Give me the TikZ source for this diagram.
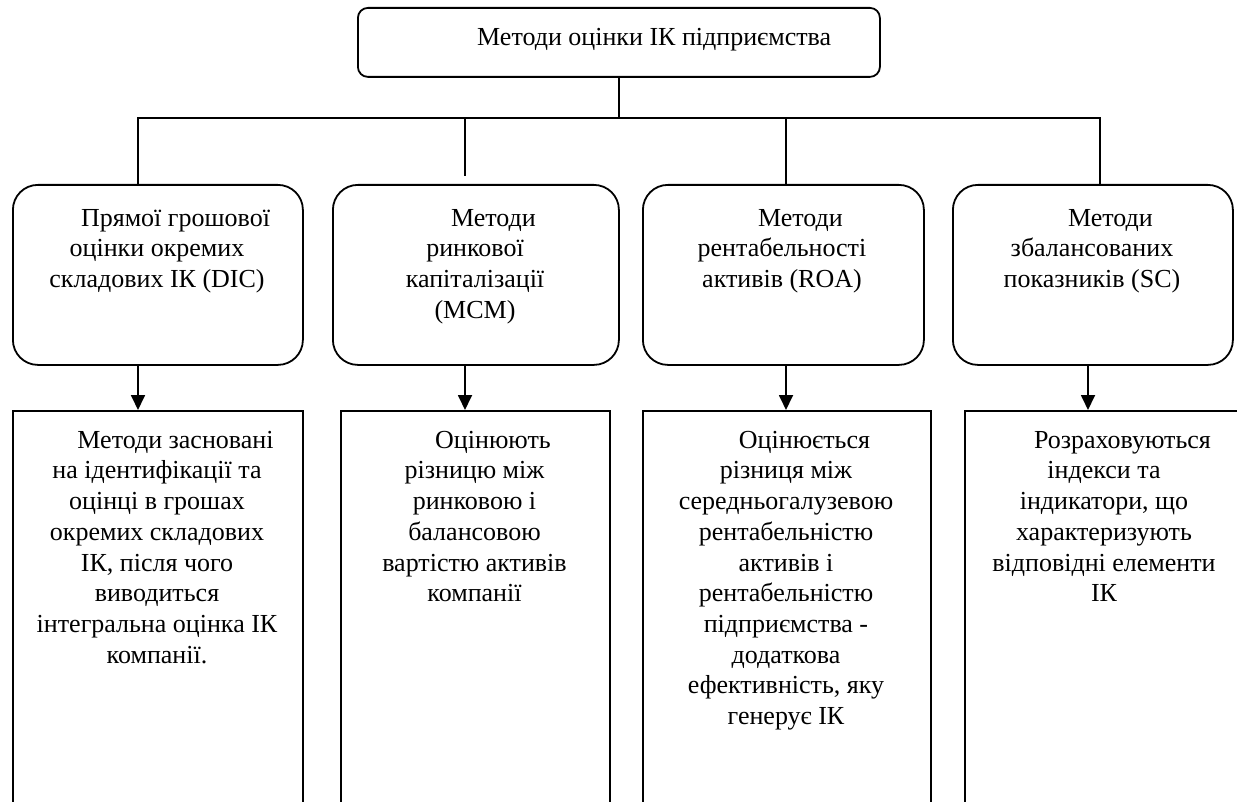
\documentclass[tikz,border=0pt]{standalone}
\usepackage{fontspec}
\setmainfont{Liberation Serif}
\usetikzlibrary{arrows.meta}
\newcommand\firstind{\rule{0pt}{24pt}\hspace*{37pt}}
\tikzset{
  ln/.style={line width=1.8pt, line cap=rect},
  topbox/.style={draw, line width=1.8pt, rounded corners=10pt, anchor=north west, inner sep=0pt},
  rbox/.style={draw, line width=1.8pt, rounded corners=25pt, anchor=north west, inner sep=0pt},
  pbox/.style={draw, line width=1.8pt, anchor=north west, inner sep=0pt},
  txt/.style={font=\fontsize{26}{30.7}\selectfont, align=center, inner sep=0pt, anchor=north},
  arr/.style={line width=1.8pt, -{Triangle[length=15pt,width=14pt]}}
}
\begin{document}
\begin{tikzpicture}[x=1pt,y=-1pt]
\useasboundingbox (0,0) rectangle (1237,802);
\clip (0,0) rectangle (1237,802);
% top box
\node[topbox, minimum width=522pt, minimum height=69pt] (top) at (357,7) {};
\node[font=\fontsize{26}{30.7}\selectfont, inner sep=0pt, anchor=base west] (toptxt) at (477,46) {Методи оцінки ІК підприємства};
% rounded boxes
\node[rbox, minimum width=290pt, minimum height=180pt] (r1) at (12,184) {};
\node[rbox, minimum width=286pt, minimum height=180pt] (r2) at (332,184) {};
\node[rbox, minimum width=281pt, minimum height=180pt] (r3) at (642,184) {};
\node[rbox, minimum width=280pt, minimum height=180pt] (r4) at (952,184) {};
\node[txt] (t1) at (157,202) {\firstind Прямої грошової\\оцінки окремих\\складових ІК (DIC)};
\node[txt] (t2) at (475,202) {\firstind Методи\\ринкової\\капіталізації\\(MCM)};
\node[txt] (t3) at (782,202) {\firstind Методи\\рентабельності\\активів (ROA)};
\node[txt] (t4) at (1092,202) {\firstind Методи\\збалансованих\\показників (SC)};
% bottom boxes (cut off by page bottom)
\node[pbox, minimum width=290pt, minimum height=420pt] (b1) at (12,410) {};
\node[pbox, minimum width=269pt, minimum height=420pt] (b2) at (340,410) {};
\node[pbox, minimum width=288pt, minimum height=420pt] (b3) at (642,410) {};
\node[pbox, minimum width=290pt, minimum height=420pt] (b4) at (964,410) {};
\node[txt] (u1) at (157,424) {\firstind Методи засновані\\на ідентифікації та\\оцінці в грошах\\окремих складових\\ІК, після чого\\виводиться\\інтегральна оцінка ІК\\компанії.};
\node[txt] (u2) at (474.5,424) {\firstind Оцінюють\\різницю між\\ринковою і\\балансовою\\вартістю активів\\компанії};
\node[txt] (u3) at (786,424) {\firstind Оцінюється\\різниця між\\середньогалузевою\\рентабельністю\\активів і\\рентабельністю\\підприємства -\\додаткова\\ефективність, яку\\генерує ІК};
\node[txt] (u4) at (1104,424) {\firstind Розраховуються\\індекси та\\індикатори, що\\характеризують\\відповідні елементи\\ІК};
% connectors
\coordinate (busL) at (138,118);
\coordinate (busR) at (1100,118);
\coordinate (bus2) at (465,118);
\coordinate (bus3) at (786,118);
\coordinate (end2) at (465,175);
\coordinate (a2) at (465,0);
\coordinate (a4) at (1088,0);
\draw[ln] (top.south) -- (top.south |- busL);
\draw[ln] (busL) -- (busR);
\draw[ln] (busL) -- (r1.north -| busL);
\draw[ln] (bus2) -- (end2);
\draw[ln] (bus3) -- (r3.north -| bus3);
\draw[ln] (busR) -- (r4.north -| busR);
\draw[arr] (r1.south -| busL) -- (b1.north -| busL);
\draw[arr] (r2.south -| a2) -- (b2.north -| a2);
\draw[arr] (r3.south -| bus3) -- (b3.north -| bus3);
\draw[arr] (r4.south -| a4) -- (b4.north -| a4);
\end{tikzpicture}
\end{document}
